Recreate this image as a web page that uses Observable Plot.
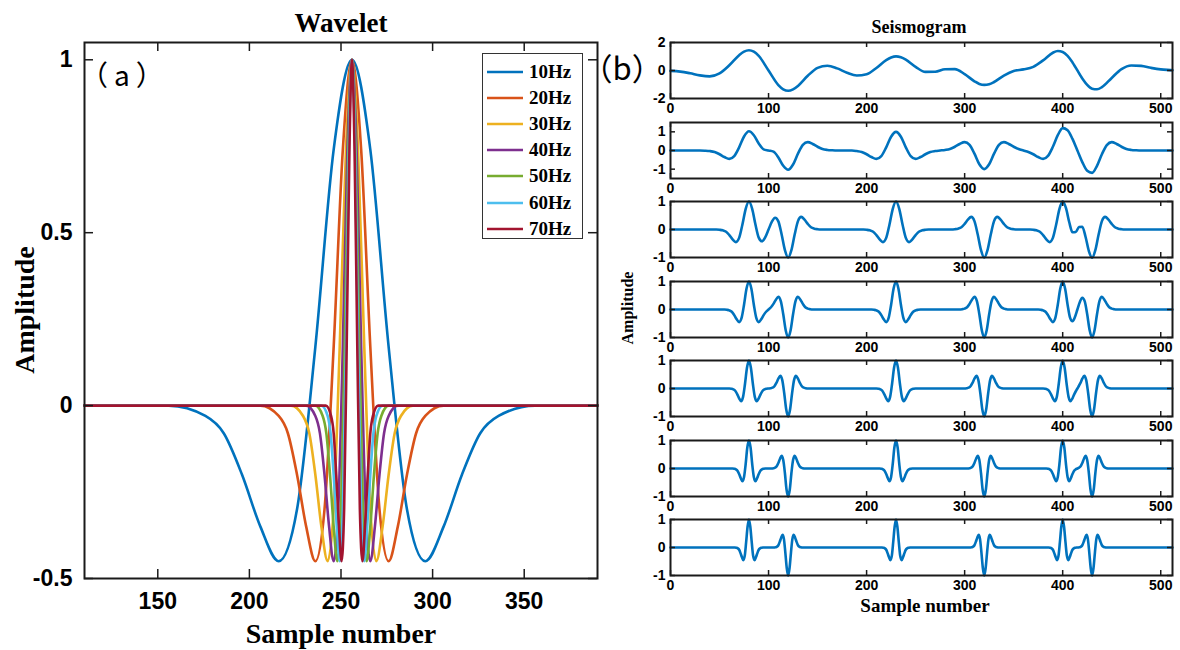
<!DOCTYPE html>
<html><head><meta charset="utf-8">
<script src="https://cdn.jsdelivr.net/npm/d3@7"></script>
<script src="https://cdn.jsdelivr.net/npm/@observablehq/plot@0.6"></script>
<style>
body{margin:0;background:#fff;}
#root{position:relative;width:1180px;height:650px;overflow:hidden;background:#fff;}
.t{position:absolute;white-space:nowrap;color:#000;}
.serif{font-family:"Liberation Serif","Times New Roman",serif;font-weight:bold;}
.cjk{font-family:"Noto Sans CJK SC","Noto Sans CJK JP","Noto Sans",sans-serif;font-weight:normal;}
</style></head><body><div id="root"></div>
<script>
// ---------- DATA ----------
const freqLabels = ["10Hz","20Hz","30Hz","40Hz","50Hz","60Hz","70Hz"];
const freqColors = ["#0072BD","#D95319","#EDB120","#7E2F8E","#77AC30","#4DBEEE","#A2142F"];
// amplitude at the key points of each wavelet (same shape, different width)
const waveletAmp = [0,0,-0.03,-0.08,-0.2,-0.35,-0.45,-0.3,0.17,0.74,1,0.74,0.17,-0.3,-0.45,-0.35,-0.2,-0.08,-0.03,0,0];
const w10x = [110,156,176,186,196,206,216,226,236,246,256,266,276,286,296,306,316,326,336,356,390];
const w20x = [110,206,216,221,226,231,236,241,246,251,256,261,266,271,276,281,286,291,296,306,390];
const w30x = [110,222.7,229.3,232.7,236,239.3,242.7,246,249.3,252.7,256,259.3,262.7,266,269.3,272.7,276,279.3,282.7,289.3,390];
const w40x = [110,231,236,238.5,241,243.5,246,248.5,251,253.5,256,258.5,261,263.5,266,268.5,271,273.5,276,281,390];
const w50x = [110,236,240,242,244,246,248,250,252,254,256,258,260,262,264,266,268,270,272,276,390];
const w60x = [110,239.3,242.7,244.3,246,247.7,249.3,251,252.7,254.3,256,257.7,259.3,261,262.7,264.3,266,267.7,269.3,272.7,390];
const w70x = [110,241.7,244.6,246,247.4,248.9,250.3,251.7,253.1,254.6,256,257.4,258.9,260.3,261.7,263.1,264.6,266,267.4,270.3,390];
const waveletX = [w10x,w20x,w30x,w40x,w50x,w60x,w70x];
const wavXTicks = [150,200,250,300,350];
const wavYTicks = [-0.5,0,0.5,1];

// seismogram traces [sample, amplitude]
const trace10 = [[0,-0.03],[10,-0.08],[20,-0.2],[30,-0.35],[40,-0.42],[50,-0.21],[60,0.37],[70,1.09],[75,1.35],[80,1.45],[85,1.34],[90,1.04],[100,0],[110,-1.04],[115,-1.34],[120,-1.45],[125,-1.35],[130,-1.1],[140,-0.38],[150,0.19],[160,0.34],[170,0.15],[180,-0.16],[190,-0.36],[200,-0.27],[210,0.18],[220,0.74],[225,0.93],[230,1.01],[235,0.94],[240,0.77],[250,0.26],[260,-0.1],[270,-0.09],[280,0.09],[290,0.1],[300,-0.26],[310,-0.77],[315,-0.96],[320,-1.03],[325,-0.98],[330,-0.82],[340,-0.36],[350,-0.03],[360,0.08],[370,0.26],[380,0.72],[390,1.27],[395,1.39],[400,1.32],[405,1.04],[410,0.58],[420,-0.57],[425,-1.03],[430,-1.3],[435,-1.34],[440,-1.19],[450,-0.53],[460,0.1],[470,0.36],[480,0.33],[490,0.19],[500,0.08],[510,0.03],[512,0.02]];
const trace20 = [[0,0],[30,0],[35,-0.01],[40,-0.03],[45,-0.08],[50,-0.2],[55,-0.35],[60,-0.45],[65,-0.3],[70,0.17],[75,0.75],[80,1.03],[85,0.82],[90,0.37],[95,0.06],[100,0],[105,-0.06],[110,-0.37],[115,-0.82],[120,-1.03],[125,-0.75],[130,-0.17],[135,0.3],[140,0.45],[145,0.35],[150,0.2],[155,0.08],[160,0.03],[165,0.01],[170,0],[185,0],[190,-0.03],[195,-0.08],[200,-0.2],[205,-0.35],[210,-0.45],[215,-0.3],[220,0.17],[225,0.74],[230,1],[235,0.74],[240,0.17],[245,-0.3],[250,-0.45],[255,-0.35],[260,-0.2],[265,-0.08],[270,-0.03],[275,0],[280,0.03],[285,0.08],[290,0.2],[295,0.35],[300,0.45],[305,0.3],[310,-0.17],[315,-0.74],[320,-1],[325,-0.74],[330,-0.17],[335,0.3],[340,0.45],[345,0.35],[350,0.2],[355,0.08],[360,0],[365,-0.08],[370,-0.2],[375,-0.35],[380,-0.45],[385,-0.29],[390,0.2],[395,0.82],[400,1.2],[405,1.09],[410,0.62],[415,0],[420,-0.62],[425,-1.09],[430,-1.2],[435,-0.82],[440,-0.2],[445,0.29],[450,0.45],[455,0.35],[460,0.2],[465,0.08],[470,0.03],[475,0.01],[480,0],[512,0]];
const trace30 = [[0,0],[46.7,0],[50,-0.01],[53.3,-0.03],[56.7,-0.08],[60,-0.2],[63.3,-0.35],[66.7,-0.45],[70,-0.3],[73.3,0.17],[76.7,0.74],[80,1],[83.3,0.74],[86.7,0.17],[90,-0.29],[93.3,-0.42],[96.7,-0.27],[100,0],[103.3,0.27],[106.7,0.42],[110,0.29],[113.3,-0.17],[116.7,-0.74],[120,-1],[123.3,-0.74],[126.7,-0.17],[130,0.3],[133.3,0.45],[136.7,0.35],[140,0.2],[143.3,0.08],[146.7,0.03],[150,0.01],[153.3,0],[196.7,0],[200,-0.01],[203.3,-0.03],[206.7,-0.08],[210,-0.2],[213.3,-0.35],[216.7,-0.45],[220,-0.3],[223.3,0.17],[226.7,0.74],[230,1],[233.3,0.74],[236.7,0.17],[240,-0.3],[243.3,-0.45],[246.7,-0.35],[250,-0.2],[253.3,-0.08],[256.7,-0.03],[260,-0.01],[263.3,0],[286.7,0],[290,0.01],[293.3,0.03],[296.7,0.08],[300,0.2],[303.3,0.35],[306.7,0.45],[310,0.3],[313.3,-0.17],[316.7,-0.74],[320,-1],[323.3,-0.74],[326.7,-0.17],[330,0.3],[333.3,0.45],[336.7,0.35],[340,0.2],[343.3,0.08],[346.7,0.03],[350,0.01],[353.3,0],[366.7,0],[370,-0.01],[373.3,-0.03],[376.7,-0.08],[380,-0.2],[383.3,-0.35],[386.7,-0.45],[390,-0.3],[393.3,0.17],[396.7,0.74],[400,1.01],[403.3,0.77],[406.7,0.26],[410,-0.1],[413.3,-0.09],[416.7,0.09],[420,0.1],[423.3,-0.26],[426.7,-0.77],[430,-1.01],[433.3,-0.74],[436.7,-0.17],[440,0.3],[443.3,0.45],[446.7,0.35],[450,0.2],[453.3,0.08],[456.7,0.03],[460,0.01],[463.3,0],[512,0]];
const trace40 = [[0,0],[55,0],[57.5,-0.01],[60,-0.03],[62.5,-0.08],[65,-0.2],[67.5,-0.35],[70,-0.45],[72.5,-0.3],[75,0.17],[77.5,0.74],[80,1],[82.5,0.74],[85,0.17],[87.5,-0.3],[90,-0.45],[92.5,-0.35],[95,-0.2],[97.5,-0.08],[100,0],[102.5,0.08],[105,0.2],[107.5,0.35],[110,0.45],[112.5,0.3],[115,-0.17],[117.5,-0.74],[120,-1],[122.5,-0.74],[125,-0.17],[127.5,0.3],[130,0.45],[132.5,0.35],[135,0.2],[137.5,0.08],[140,0.03],[142.5,0.01],[145,0],[205,0],[207.5,-0.01],[210,-0.03],[212.5,-0.08],[215,-0.2],[217.5,-0.35],[220,-0.45],[222.5,-0.3],[225,0.17],[227.5,0.74],[230,1],[232.5,0.74],[235,0.17],[237.5,-0.3],[240,-0.45],[242.5,-0.35],[245,-0.2],[247.5,-0.08],[250,-0.03],[252.5,-0.01],[255,0],[295,0],[297.5,0.01],[300,0.03],[302.5,0.08],[305,0.2],[307.5,0.35],[310,0.45],[312.5,0.3],[315,-0.17],[317.5,-0.74],[320,-1],[322.5,-0.74],[325,-0.17],[327.5,0.3],[330,0.45],[332.5,0.35],[335,0.2],[337.5,0.08],[340,0.03],[342.5,0.01],[345,0],[375,0],[377.5,-0.01],[380,-0.03],[382.5,-0.08],[385,-0.2],[387.5,-0.35],[390,-0.45],[392.5,-0.3],[395,0.17],[397.5,0.74],[400,1],[402.5,0.74],[405,0.17],[407.5,-0.29],[410,-0.42],[412.5,-0.27],[415,0],[417.5,0.27],[420,0.42],[422.5,0.29],[425,-0.17],[427.5,-0.74],[430,-1],[432.5,-0.74],[435,-0.17],[437.5,0.3],[440,0.45],[442.5,0.35],[445,0.2],[447.5,0.08],[450,0.03],[452.5,0.01],[455,0],[512,0]];
const trace50 = [[0,0],[60,0],[62,-0.01],[64,-0.03],[66,-0.08],[68,-0.2],[70,-0.35],[72,-0.45],[74,-0.3],[76,0.17],[78,0.74],[80,1],[82,0.74],[84,0.17],[86,-0.3],[88,-0.45],[90,-0.35],[92,-0.2],[94,-0.08],[96,-0.03],[98,-0.01],[100,0],[102,0.01],[104,0.03],[106,0.08],[108,0.2],[110,0.35],[112,0.45],[114,0.3],[116,-0.17],[118,-0.74],[120,-1],[122,-0.74],[124,-0.17],[126,0.3],[128,0.45],[130,0.35],[132,0.2],[134,0.08],[136,0.03],[138,0.01],[140,0],[210,0],[212,-0.01],[214,-0.03],[216,-0.08],[218,-0.2],[220,-0.35],[222,-0.45],[224,-0.3],[226,0.17],[228,0.74],[230,1],[232,0.74],[234,0.17],[236,-0.3],[238,-0.45],[240,-0.35],[242,-0.2],[244,-0.08],[246,-0.03],[248,-0.01],[250,0],[300,0],[302,0.01],[304,0.03],[306,0.08],[308,0.2],[310,0.35],[312,0.45],[314,0.3],[316,-0.17],[318,-0.74],[320,-1],[322,-0.74],[324,-0.17],[326,0.3],[328,0.45],[330,0.35],[332,0.2],[334,0.08],[336,0.03],[338,0.01],[340,0],[380,0],[382,-0.01],[384,-0.03],[386,-0.08],[388,-0.2],[390,-0.35],[392,-0.45],[394,-0.3],[396,0.17],[398,0.74],[400,1],[402,0.74],[404,0.17],[406,-0.3],[408,-0.45],[410,-0.35],[412,-0.19],[414,-0.06],[416,0.06],[418,0.19],[420,0.35],[422,0.45],[424,0.3],[426,-0.17],[428,-0.74],[430,-1],[432,-0.74],[434,-0.17],[436,0.3],[438,0.45],[440,0.35],[442,0.2],[444,0.08],[446,0.03],[448,0.01],[450,0],[512,0]];
const trace60 = [[0,0],[63.3,0],[65,-0.01],[66.7,-0.03],[68.3,-0.08],[70,-0.2],[71.7,-0.35],[73.3,-0.45],[75,-0.3],[76.7,0.17],[78.3,0.74],[80,1],[81.7,0.74],[83.3,0.17],[85,-0.3],[86.7,-0.45],[88.3,-0.35],[90,-0.2],[91.7,-0.08],[93.3,-0.03],[95,-0.01],[96.7,0],[103.3,0],[105,0.01],[106.7,0.03],[108.3,0.08],[110,0.2],[111.7,0.35],[113.3,0.45],[115,0.3],[116.7,-0.17],[118.3,-0.74],[120,-1],[121.7,-0.74],[123.3,-0.17],[125,0.3],[126.7,0.45],[128.3,0.35],[130,0.2],[131.7,0.08],[133.3,0.03],[135,0.01],[136.7,0],[213.3,0],[215,-0.01],[216.7,-0.03],[218.3,-0.08],[220,-0.2],[221.7,-0.35],[223.3,-0.45],[225,-0.3],[226.7,0.17],[228.3,0.74],[230,1],[231.7,0.74],[233.3,0.17],[235,-0.3],[236.7,-0.45],[238.3,-0.35],[240,-0.2],[241.7,-0.08],[243.3,-0.03],[245,-0.01],[246.7,0],[303.3,0],[305,0.01],[306.7,0.03],[308.3,0.08],[310,0.2],[311.7,0.35],[313.3,0.45],[315,0.3],[316.7,-0.17],[318.3,-0.74],[320,-1],[321.7,-0.74],[323.3,-0.17],[325,0.3],[326.7,0.45],[328.3,0.35],[330,0.2],[331.7,0.08],[333.3,0.03],[335,0.01],[336.7,0],[383.3,0],[385,-0.01],[386.7,-0.03],[388.3,-0.08],[390,-0.2],[391.7,-0.35],[393.3,-0.45],[395,-0.3],[396.7,0.17],[398.3,0.74],[400,1],[401.7,0.74],[403.3,0.17],[405,-0.3],[406.7,-0.45],[408.3,-0.35],[410,-0.2],[411.7,-0.08],[413.3,-0.03],[415,0],[416.7,0.03],[418.3,0.08],[420,0.2],[421.7,0.35],[423.3,0.45],[425,0.3],[426.7,-0.17],[428.3,-0.74],[430,-1],[431.7,-0.74],[433.3,-0.17],[435,0.3],[436.7,0.45],[438.3,0.35],[440,0.2],[441.7,0.08],[443.3,0.03],[445,0.01],[446.7,0],[512,0]];
const trace70 = [[0,0],[65.7,0],[67.1,-0.01],[68.6,-0.03],[70,-0.08],[71.4,-0.2],[72.9,-0.35],[74.3,-0.45],[75.7,-0.3],[77.1,0.17],[78.6,0.74],[80,1],[81.4,0.74],[82.9,0.17],[84.3,-0.3],[85.7,-0.45],[87.1,-0.35],[88.6,-0.2],[90,-0.08],[91.4,-0.03],[92.9,-0.01],[94.3,0],[105.7,0],[107.1,0.01],[108.6,0.03],[110,0.08],[111.4,0.2],[112.9,0.35],[114.3,0.45],[115.7,0.3],[117.1,-0.17],[118.6,-0.74],[120,-1],[121.4,-0.74],[122.9,-0.17],[124.3,0.3],[125.7,0.45],[127.1,0.35],[128.6,0.2],[130,0.08],[131.4,0.03],[132.9,0.01],[134.3,0],[215.7,0],[217.1,-0.01],[218.6,-0.03],[220,-0.08],[221.4,-0.2],[222.9,-0.35],[224.3,-0.45],[225.7,-0.3],[227.1,0.17],[228.6,0.74],[230,1],[231.4,0.74],[232.9,0.17],[234.3,-0.3],[235.7,-0.45],[237.1,-0.35],[238.6,-0.2],[240,-0.08],[241.4,-0.03],[242.9,-0.01],[244.3,0],[305.7,0],[307.1,0.01],[308.6,0.03],[310,0.08],[311.4,0.2],[312.9,0.35],[314.3,0.45],[315.7,0.3],[317.1,-0.17],[318.6,-0.74],[320,-1],[321.4,-0.74],[322.9,-0.17],[324.3,0.3],[325.7,0.45],[327.1,0.35],[328.6,0.2],[330,0.08],[331.4,0.03],[332.9,0.01],[334.3,0],[385.7,0],[387.1,-0.01],[388.6,-0.03],[390,-0.08],[391.4,-0.2],[392.9,-0.35],[394.3,-0.45],[395.7,-0.3],[397.1,0.17],[398.6,0.74],[400,1],[401.4,0.74],[402.9,0.17],[404.3,-0.3],[405.7,-0.45],[407.1,-0.35],[408.6,-0.2],[410,-0.08],[411.4,-0.03],[412.9,-0.01],[414.3,0],[415.7,0],[417.1,0.01],[418.6,0.03],[420,0.08],[421.4,0.2],[422.9,0.35],[424.3,0.45],[425.7,0.3],[427.1,-0.17],[428.6,-0.74],[430,-1],[431.4,-0.74],[432.9,-0.17],[434.3,0.3],[435.7,0.45],[437.1,0.35],[438.6,0.2],[440,0.08],[441.4,0.03],[442.9,0.01],[444.3,0],[512,0]];
const traces = [trace10,trace20,trace30,trace40,trace50,trace60,trace70];
const traceYDomains = [[-2,2],[-1.5,1.5],[-1,1],[-1,1],[-1,1],[-1,1],[-1,1]];
const traceYTicks = [[-2,0,2],[-1,0,1],[-1,0,1],[-1,0,1],[-1,0,1],[-1,0,1],[-1,0,1]];
const seisXTicks = [0,100,200,300,400,500];

// ---------- LAYOUT ----------
const root = document.getElementById("root");
function addText(txt, cls, css){const d=document.createElement("div");d.className="t "+cls;d.textContent=txt;d.style.cssText+=css;root.appendChild(d);return d;}
function place(node, left, top){const w=document.createElement("div");w.style.cssText=`position:absolute;left:${left}px;top:${top}px;`;w.appendChild(node);root.appendChild(w);}
const ink = "#1a1a1a";

// ---- Panel (a) ----
const L = {w:600, h:650, ml:84, mr:3, mt:42, mb:72};
const lfw = L.w-L.ml-L.mr, lfh = L.h-L.mt-L.mb;
const waveRows = freqLabels.map((f,i)=>waveletX[i].map((x,j)=>({freq:f, x, y:waveletAmp[j]})));
const leftPlot = Plot.plot({
  width:L.w, height:L.h, marginLeft:L.ml, marginRight:L.mr, marginTop:L.mt, marginBottom:L.mb,
  style:{fontFamily:"'Liberation Sans',Arial,sans-serif", fontWeight:"bold", fontSize:"23px", color:"#000", background:"transparent", overflow:"visible"},
  x:{domain:[110,390]},
  y:{domain:[-0.5,1.05]},
  marks:[
    ...waveRows.map((rows,i)=>Plot.line(rows,{x:"x",y:"y",stroke:freqColors[i],strokeWidth:2.6,curve:"monotone-x"})),
    Plot.ruleX(wavXTicks,{x:d=>d, insetTop:lfh-9, stroke:ink, strokeWidth:1.5}),
    Plot.ruleX(wavXTicks,{x:d=>d, insetBottom:lfh-9, stroke:ink, strokeWidth:1.5}),
    Plot.ruleY(wavYTicks,{y:d=>d, insetRight:lfw-9, stroke:ink, strokeWidth:1.5}),
    Plot.ruleY(wavYTicks,{y:d=>d, insetLeft:lfw-9, stroke:ink, strokeWidth:1.5}),
    Plot.frame({stroke:ink, strokeWidth:2}),
    Plot.axisX({ticks:wavXTicks, tickSize:0, tickPadding:14, tickFormat:d=>String(d), label:null}),
    Plot.axisY({ticks:wavYTicks, tickSize:0, tickPadding:12, tickFormat:d=>String(d), label:null})
  ]
});
place(leftPlot, 0, 0);

addText("Wavelet","serif","font-size:27px;left:341px;top:23px;transform:translate(-50%,-50%);");
addText("Sample number","serif","font-size:28px;left:341px;top:634px;transform:translate(-50%,-50%);");
addText("Amplitude","serif","font-size:28px;left:25px;top:310px;transform:translate(-50%,-50%) rotate(-90deg);");
addText("（a）","cjk","font-size:28px;left:80px;top:54px;letter-spacing:6px;text-spacing-trim:space-all;");

// legend
const leg = document.createElement("div");
leg.style.cssText = "position:absolute;left:482px;top:53px;width:101px;height:186px;border:1.5px solid #333;background:#fff;box-sizing:border-box;";
root.appendChild(leg);
freqLabels.forEach((f,i)=>{
  const row=document.createElement("div");
  row.style.cssText=`position:absolute;left:4px;top:${6+i*26.1}px;height:24px;display:flex;align-items:center;`;
  const sw=document.createElementNS("http://www.w3.org/2000/svg","svg");
  sw.setAttribute("width","37");sw.setAttribute("height","24");
  const ln=document.createElementNS("http://www.w3.org/2000/svg","line");
  ln.setAttribute("x1","0");ln.setAttribute("x2","36");ln.setAttribute("y1","12");ln.setAttribute("y2","12");
  ln.setAttribute("stroke",freqColors[i]);ln.setAttribute("stroke-width","2.6");
  sw.appendChild(ln);row.appendChild(sw);
  const tx=document.createElement("span");
  tx.className="serif";tx.textContent=f;
  tx.style.cssText="font-size:19px;margin-left:5px;color:#000;";
  row.appendChild(tx);leg.appendChild(row);
});

// ---- Panel (b) ----
const R = {left:600, w:580, ml:70, mr:8, mt:4, mb:22, fh:56};
const rfw = R.w-R.ml-R.mr;
const panelTops = [42,121.5,201,280.5,360,439.5,519];
traces.forEach((tr,i)=>{
  const rows = tr.map(([x,y])=>({x,y}));
  const p = Plot.plot({
    width:R.w, height:R.mt+R.fh+R.mb, marginLeft:R.ml, marginRight:R.mr, marginTop:R.mt, marginBottom:R.mb,
    style:{fontFamily:"'Liberation Sans',Arial,sans-serif", fontWeight:"bold", fontSize:"14px", color:"#000", background:"transparent", overflow:"visible"},
    x:{domain:[0,512]},
    y:{domain:traceYDomains[i]},
    marks:[
      Plot.line(rows,{x:"x",y:"y",stroke:"#0072BD",strokeWidth:2.6,curve:"monotone-x"}),
      Plot.ruleX(seisXTicks,{x:d=>d, insetTop:R.fh-5, stroke:ink, strokeWidth:1.5}),
      Plot.ruleX(seisXTicks,{x:d=>d, insetBottom:R.fh-5, stroke:ink, strokeWidth:1.5}),
      Plot.ruleY(traceYTicks[i],{y:d=>d, insetRight:rfw-5, stroke:ink, strokeWidth:1.5}),
      Plot.ruleY(traceYTicks[i],{y:d=>d, insetLeft:rfw-5, stroke:ink, strokeWidth:1.5}),
      Plot.frame({stroke:ink, strokeWidth:2}),
      Plot.axisX({ticks:seisXTicks, tickSize:0, tickPadding:5, tickFormat:d=>String(d), label:null}),
      Plot.axisY({ticks:traceYTicks[i], tickSize:0, tickPadding:5, tickFormat:d=>String(d), label:null})
    ]
  });
  place(p, R.left, panelTops[i]-R.mt);
});
addText("Seismogram","serif","font-size:18px;left:919px;top:27px;transform:translate(-50%,-50%);");
addText("Amplitude","serif","font-size:16px;left:628px;top:308px;transform:translate(-50%,-50%) rotate(-90deg);");
addText("Sample number","serif","font-size:19px;left:925px;top:606px;transform:translate(-50%,-50%);");
addText("（b）","cjk","font-size:31px;left:597px;top:50px;line-height:1.1;font-feature-settings:'halt' 1;");
</script></body></html>
